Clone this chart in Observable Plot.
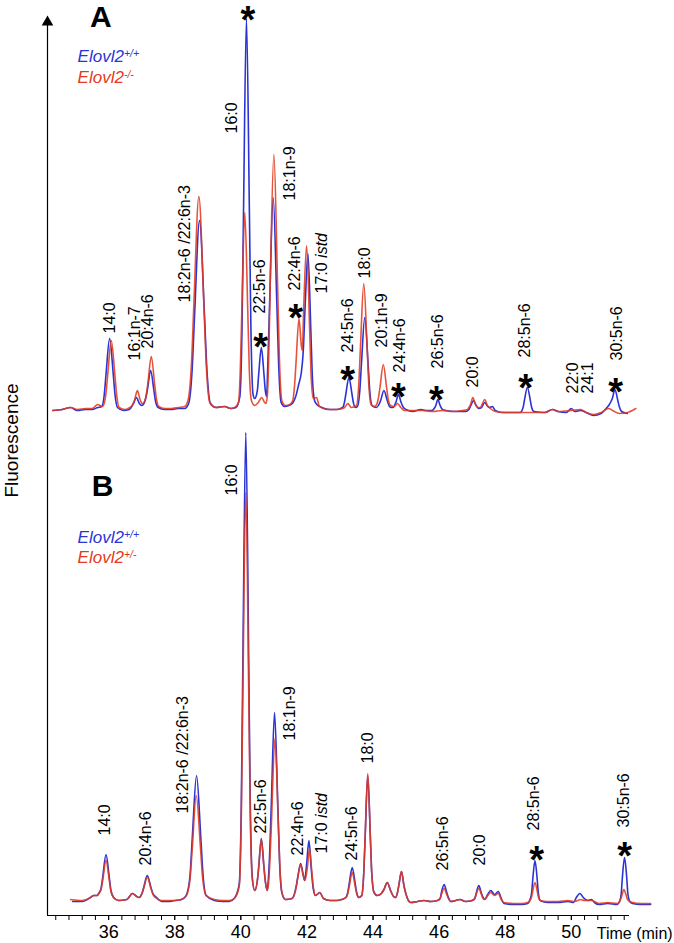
<!DOCTYPE html>
<html><head><meta charset="utf-8">
<script src="https://cdn.jsdelivr.net/npm/d3@7"></script>
<script src="https://cdn.jsdelivr.net/npm/@observablehq/plot@0.6"></script>
<style>html,body{margin:0;padding:0;background:#fff}</style>
</head><body><div id="chart"></div>
<script>
// ---- Data: retention time (min), fluorescence intensity (arbitrary units) ----
const blueA = [[34.31,0],[34.6,1],[34.85,3],[35.05,0],[35.3,1],[35.5,1],[35.67,3],
[35.79,4],[35.865,15],[35.92,36],[36.03,72],[36.14,36],[36.195,15],[36.27,3],
[36.45,0],[36.62,1],[36.66,2],[36.75,7],[36.84,13],[36.93,7],[37.0,5],
[37.05,6],[37.12,12],[37.17,20],[37.27,40],[37.37,20],[37.42,9],[37.5,3],
[37.7,1],[37.9,1],[38.1,2],[38.3,2],
[38.42,7],[38.525,40],[38.6,95],[38.75,190],[38.9,95],[38.975,40],[39.08,7],
[39.25,3],[39.5,4],[39.7,2],[39.85,3],
[39.97,14],[40.035,82],[40.08,196],[40.17,392],[40.26,196],[40.305,82],[40.37,16],[40.42,12],
[40.5,20],[40.54,36],[40.62,63],[40.7,36],[40.74,20],[40.78,14],
[40.815,45],[40.87,106],[40.98,213],[41.09,106],[41.145,45],[41.22,8],
[41.32,4],[41.45,5],[41.58,8],[41.66,14],[41.75,26],[41.83,38],
[41.89,60],[41.94,100],[42.03,157],[42.12,78],[42.165,33],[42.23,10],
[42.3,6],[42.45,3],[42.7,1],[42.9,1],[43.08,3],
[43.14,9],[43.18,17],[43.27,33],[43.36,17],[43.405,8],[43.47,3],
[43.53,4],[43.6,20],[43.65,47],[43.75,93],[43.85,47],[43.9,20],[43.97,5],
[44.1,3],[44.18,6],[44.23,10],[44.33,20],[44.43,10],[44.5,4],[44.55,3],
[44.6,3],[44.69,8],[44.77,16],[44.85,8],[44.92,3],[45.0,1],
[45.2,-1],[45.45,1],[45.6,0],[45.78,0],
[45.85,2],[45.9,5],[45.96,11],[46.03,5],[46.1,1],[46.2,0],
[46.5,-1],[46.8,-1],[46.9,1],[46.96,5],[47.04,10],[47.12,5],[47.2,2],
[47.28,3],[47.38,8],[47.47,4],[47.53,3],[47.61,4],[47.7,0],
[47.9,-2],[48.2,-2],[48.45,-2],
[48.54,3],[48.58,10],[48.67,23],[48.76,10],[48.8,3],[48.87,-1],
[49.2,-2],[49.43,1],[49.6,-1],[49.85,-2],[50.0,2],[50.1,-1],[50.28,0],[50.45,-2],[50.67,-5],[50.9,-3],
[51.05,2],[51.13,5],[51.2,9],[51.24,12],[51.32,21],[51.4,11],[51.45,4],[51.52,-1],[51.69,-3]];

const redA = [[34.31,0],[34.6,1],[34.85,3],[35.05,1],[35.3,2],[35.5,2],[35.67,6],[35.8,4],
[35.84,5],[35.915,16],[35.97,35],[36.08,70],[36.19,35],[36.245,15],[36.32,3],
[36.5,1],[36.64,3],[36.71,5],[36.78,10],[36.87,20],[36.96,10],[37.02,7],
[37.1,10],[37.14,16],[37.19,28],[37.29,54],[37.39,27],[37.44,13],[37.52,4],
[37.7,2],[37.9,2],[38.1,3],[38.3,4],
[38.4,10],[38.505,46],[38.58,107],[38.73,214],[38.88,107],[38.955,45],[39.06,8],
[39.25,3],[39.5,4],[39.7,2],[39.85,4],
[39.93,8],[39.985,42],[40.03,99],[40.12,198],[40.21,99],[40.255,42],[40.32,10],
[40.42,5],[40.53,8],[40.63,13],[40.72,8],[40.76,7],
[40.8,14],[40.845,54],[40.89,128],[41.0,256],[41.11,128],[41.165,54],[41.24,10],
[41.35,5],[41.48,6],
[41.57,10],[41.625,25],[41.67,48],[41.76,92],[41.83,65],[41.86,60],
[41.9,100],[41.99,165],[42.08,83],[42.125,36],[42.19,12],[42.29,13],[42.38,4],
[42.6,1],[42.9,1],[43.08,2],
[43.14,3],[43.24,7],[43.34,3],
[43.5,5],[43.57,27],[43.62,64],[43.72,127],[43.82,64],[43.87,27],[43.94,6],
[44.02,4],[44.09,5],[44.16,12],[44.21,23],[44.31,46],[44.41,23],[44.46,11],[44.53,5],
[44.64,4],[44.74,7],[44.84,3],[44.95,0],
[45.2,0],[45.5,0],[45.8,-1],[46.1,0],[46.4,-1],[46.7,0],[46.86,1],
[46.9,3],[46.95,6],[47.02,13],[47.1,6],[47.17,3],
[47.25,3],[47.3,6],[47.38,11],[47.46,5],[47.55,2],[47.7,-1],
[48.0,-2],[48.4,-2],[48.8,-2],[49.2,-2],[49.43,1],[49.6,-1],[50.0,0],[50.28,1],[50.45,-2],[50.67,-4],[50.9,-2],[51.13,2],[51.25,0],[51.45,-3],[51.7,-2],[51.95,2]];

const blueB = [[34.91,-1],[35.2,-1],[35.45,3],[35.55,5],[35.65,5],
[35.7,7],[35.77,12],[35.82,23],[35.92,46],[36.02,23],[36.07,10],[36.15,3],
[36.3,0],[36.55,1],[36.72,7],[36.85,4],[36.92,3],
[36.98,5],[37.02,8],[37.06,13],[37.17,25],[37.28,13],[37.34,7],[37.45,3],[37.6,-1],
[37.8,-1],[38.0,0],[38.2,1],[38.3,3],
[38.37,7],[38.465,26],[38.53,62],[38.66,125],[38.79,62],[38.855,26],[38.95,5],
[39.2,0],[39.45,-1],[39.65,-1],[39.8,2],
[39.95,16],[40.015,98],[40.06,234],[40.15,468],[40.24,234],[40.285,98],[40.35,22],[40.42,10],
[40.5,20],[40.54,33],[40.62,62],[40.7,33],[40.75,17],[40.8,10],
[40.83,20],[40.87,45],[40.92,94],[41.02,188],[41.12,94],[41.17,40],[41.24,8],
[41.35,1],[41.55,2],[41.68,15],
[41.73,25],[41.81,37],[41.88,27],[41.93,20],
[41.99,36],[42.06,60],[42.13,32],[42.19,12],[42.26,5],[42.39,8],[42.5,2],
[42.7,0],[42.9,0],[43.05,1],
[43.18,3],[43.235,8],[43.28,17],[43.37,33],[43.46,17],[43.505,8],[43.57,3],
[43.66,5],[43.72,28],[43.76,62],[43.84,125],[43.92,62],[43.96,28],[44.03,8],[44.13,5],
[44.25,7],[44.33,11],[44.43,18],[44.53,10],[44.62,4],[44.68,3],
[44.74,8],[44.78,15],[44.86,29],[44.94,14],[45.0,6],[45.07,0],[45.14,-2],
[45.35,-1],[45.54,0],[45.75,-1],[45.95,0],
[46.03,2],[46.07,8],[46.15,16],[46.23,8],[46.28,3],[46.35,-1],
[46.5,0],[46.63,1],[46.8,-1],[47.0,0],
[47.08,2],[47.12,7],[47.2,15],[47.28,7],[47.33,3],[47.38,1],
[47.47,6],[47.56,10],[47.68,6],[47.79,9],[47.88,2],[47.96,-3],
[48.25,-4],[48.5,-4],[48.68,-3],
[48.75,1],[48.8,8],[48.83,20],[48.9,40],[48.97,20],[49.0,8],[49.06,0],
[49.28,-2],[49.6,-2],[49.9,-1],[50.07,-2],
[50.15,3],[50.26,7],[50.36,3],[50.5,0],[50.61,1],[50.7,-2],[50.84,-4],
[51.1,-3],[51.39,-4],
[51.46,-1],[51.51,7],[51.54,21],[51.61,43],[51.68,21],[51.71,7],[51.77,-1],[51.85,-3],
[52.1,-4],[52.4,-4]];

const redB = [[34.85,1],[35.2,0],[35.45,3],[35.55,5],[35.65,5],
[35.7,7],[35.77,11],[35.82,20],[35.92,40],[36.02,20],[36.07,9],[36.15,3],
[36.3,0],[36.55,1],[36.72,7],[36.85,4],[36.92,3],
[36.98,5],[37.02,8],[37.06,12],[37.17,23],[37.28,12],[37.34,6],[37.45,2],[37.6,0],
[37.8,0],[38.0,0],[38.2,1],[38.3,3],
[38.37,6],[38.465,22],[38.53,52],[38.65,105],[38.78,52],[38.845,22],[38.95,5],
[39.2,1],[39.45,0],[39.65,0],[39.8,2],
[39.95,14],[40.015,86],[40.06,204],[40.15,408],[40.24,204],[40.285,86],[40.35,20],[40.42,10],
[40.5,20],[40.54,33],[40.62,61],[40.7,33],[40.75,17],[40.8,10],
[40.84,18],[40.88,40],[40.93,81],[41.03,162],[41.13,81],[41.18,35],[41.25,7],
[41.35,1],[41.55,2],[41.68,14],
[41.73,24],[41.81,36],[41.88,26],[41.94,20],
[42.01,32],[42.08,52],[42.15,28],[42.2,12],[42.26,5],[42.39,8],[42.5,2],
[42.7,0],[42.9,0],[43.05,1],
[43.18,3],[43.235,7],[43.28,14],[43.37,28],[43.46,14],[43.505,7],[43.57,3],
[43.66,5],[43.72,28],[43.76,63],[43.84,127],[43.92,63],[43.96,28],[44.03,8],[44.13,5],
[44.25,7],[44.33,11],[44.43,18],[44.53,10],[44.62,4],[44.68,3],
[44.74,8],[44.78,15],[44.86,29],[44.94,14],[45.0,6],[45.07,0],[45.14,-2],
[45.35,-1],[45.54,0],[45.75,-1],[45.95,0],
[46.03,2],[46.07,6],[46.15,12],[46.23,6],[46.28,2],[46.35,-1],
[46.5,0],[46.63,1],[46.8,-1],[47.0,0],
[47.08,2],[47.12,6],[47.2,12],[47.28,6],[47.33,2],[47.38,1],
[47.47,5],[47.56,8],[47.68,5],[47.79,7],[47.88,1],[47.96,-2],
[48.25,-3],[48.5,-3],[48.68,-2],
[48.75,0],[48.8,4],[48.83,9],[48.9,18],[48.97,9],[49.0,4],[49.06,0],
[49.28,-1],[49.6,-1],[49.9,0],[50.07,-1],
[50.2,0],[50.26,1],[50.4,0],[50.61,0],[50.84,-3],
[51.1,-2],[51.39,-3],
[51.46,-1],[51.5,2],[51.53,5],[51.59,11],[51.66,5],[51.7,1],[51.77,-1],[51.85,-2],
[52.1,-3],[52.4,-3]];

// Peak labels (text, retention time, level above panel baseline)
const labelTextA = ["14:0","16:1n-7","20:4n-6","18:2n-6 /22:6n-3","16:0","22:5n-6","18:1n-9","22:4n-6","17:0 |istd","24:5n-6","18:0","20:1n-9","24:4n-6","26:5n-6","20:0","28:5n-6","22:0","24:1","30:5n-6"];
const labelTimeA = [36.03,36.79,37.18,38.30,39.72,40.57,41.48,41.63,42.44,43.25,43.75,44.26,44.80,45.97,47.03,48.59,50.05,50.51,51.39];
const labelLevelA = [77,50,62,108,277,97,210,120,117,58,132,63,38,42,23,53,17,17,50];

const labelTextB = ["14:0","20:4n-6","18:2n-6 /22:6n-3","16:0","22:5n-6","18:1n-9","22:4n-6","17:0 |istd","24:5n-6","18:0","26:5n-6","20:0","28:5n-6","30:5n-6"];
const labelTimeB = [35.88,37.12,38.24,39.72,40.60,41.48,41.73,42.44,43.35,43.85,46.12,47.23,48.86,51.58];
const labelLevelB = [65,35,87,405,67,160,45,47,40,137,30,35,70,73];

// Significance asterisks (time, level)
const starTimeA = [40.21,40.60,41.66,43.23,44.77,45.92,48.62,51.34];
const starLevelA = [400,73,102,40,23,20,32,28];
const starTimeB = [48.95,51.61];
const starLevelB = [50,54];

const panelNames = ["A","B"];
const legendA = ["Elovl2^+/+","Elovl2^-/-"];
const legendB = ["Elovl2^+/+","Elovl2^+/-"];
const majorTicks = [36,38,40,42,44,46,48,50];
const minorTicks = d3.range(0,44).map(i => +(34.4 + i*0.4).toFixed(1));
const xTitle = "Time (min)";
const yTitle = "Fluorescence";

// ---- Layout (offsets of the two stacked panels, in intensity units) ----
const offA = 505, offB = 15;
const xMin = 34.15, xMax = 51.76, yTop = 900;
const BLUE = "#2a33d4", RED = "#e33a20";
const FONT = "Liberation Sans, Arial, Helvetica, sans-serif";

const rows = (arr, off) => arr.map(([t, v]) => ({t, v: v + off}));
const labels = (txt, tm, lv, off) => txt.map((s, i) => ({s, t: tm[i], v: lv[i] + off}));
const stars = (tm, lv, off) => tm.map((t, i) => ({t, v: lv[i] + off}));

const peakLabels = [...labels(labelTextA, labelTimeA, labelLevelA, offA), ...labels(labelTextB, labelTimeB, labelLevelB, offB)];
const starRows = [...stars(starTimeA, starLevelA, offA), ...stars(starTimeB, starLevelB, offB)];
const panelRows = [{s: panelNames[0], t: 35.76, v: 384 + offA}, {s: panelNames[1], t: 35.82, v: 405 + offB}];
const legendRows = [
  {s: legendA[0], t: 35.06, v: 349 + offA, c: BLUE},
  {s: legendA[1], t: 35.06, v: 328 + offA, c: RED},
  {s: legendB[0], t: 35.06, v: 358 + offB, c: BLUE},
  {s: legendB[1], t: 35.06, v: 338 + offB, c: RED}
];

const chart = Plot.plot({
  width: 674, height: 943,
  marginLeft: 47, marginRight: 45, marginTop: 15, marginBottom: 28,
  x: {domain: [xMin, xMax]},
  y: {domain: [0, yTop], axis: null},
  style: {fontFamily: FONT, background: "white", color: "black", overflow: "visible"},
  marks: [
    Plot.ruleY([0], {stroke: "black", strokeWidth: 1.2}),
    Plot.ruleX([xMin], {y1: 0, y2: yTop - 8, stroke: "black", strokeWidth: 1.2}),
    Plot.dot([yTop], {x: () => xMin, y: d => d - 6.7, symbol: "triangle", r: 4.3, fill: "black", stroke: null}),
    Plot.axisX({ticks: minorTicks, tickSize: 5, tickFormat: () => "", label: null, strokeWidth: 1}),
    Plot.axisX({ticks: majorTicks, tickSize: 5, tickPadding: 5, fontSize: 18, label: null, tickFormat: d => String(d)}),
    Plot.line(rows(blueA, offA), {x: "t", y: "v", stroke: BLUE, strokeWidth: 1.6, curve: "monotone-x"}),
    Plot.line(rows(redA, offA), {x: "t", y: "v", stroke: RED, strokeWidth: 1.6, strokeOpacity: 0.88, curve: "monotone-x"}),
    Plot.line(rows(blueB, offB), {x: "t", y: "v", stroke: BLUE, strokeWidth: 1.6, curve: "monotone-x"}),
    Plot.line(rows(redB, offB), {x: "t", y: "v", stroke: RED, strokeWidth: 1.6, strokeOpacity: 0.88, curve: "monotone-x"}),
    Plot.text(peakLabels, {x: "t", y: "v", text: "s", rotate: -90, textAnchor: "start", lineAnchor: "middle", fontSize: 16, fill: "black"}),
    Plot.text(starRows, {x: "t", y: "v", text: () => "*", fontSize: 38, fontWeight: "bold", lineAnchor: "middle", dy: 10, fill: "black"}),
    Plot.text(panelRows, {x: "t", y: "v", text: "s", fontSize: 30, fontWeight: "bold", lineAnchor: "bottom", fill: "black"}),
    Plot.text(legendRows, {x: "t", y: "v", text: "s", fontSize: 17, fontStyle: "italic", textAnchor: "start", lineAnchor: "bottom", fill: "c"}),
    Plot.text([xTitle], {x: () => 50.77, y: () => -23, text: d => d, fontSize: 16, textAnchor: "start", lineAnchor: "bottom", fill: "black"}),
    Plot.text([yTitle], {x: () => 33.07, y: () => 475, text: d => d, fontSize: 19, rotate: -90, textAnchor: "middle", lineAnchor: "middle", fill: "black"})
  ]
});

// rich text: superscripts (^) and italic parts (|)
d3.select(chart).selectAll("text").each(function () {
  const t = this.textContent;
  if (t.includes("^")) {
    const [a, b] = t.split("^");
    const sel = d3.select(this); sel.text(null);
    sel.append("tspan").text(a);
    sel.append("tspan").attr("dy", "-0.42em").attr("font-size", "0.62em").text(b);
  } else if (t.includes("|")) {
    const [a, b] = t.split("|");
    const sel = d3.select(this); sel.text(null);
    sel.append("tspan").text(a);
    sel.append("tspan").attr("font-style", "italic").text(b);
  }
});

document.getElementById("chart").appendChild(chart);
</script></body></html>
